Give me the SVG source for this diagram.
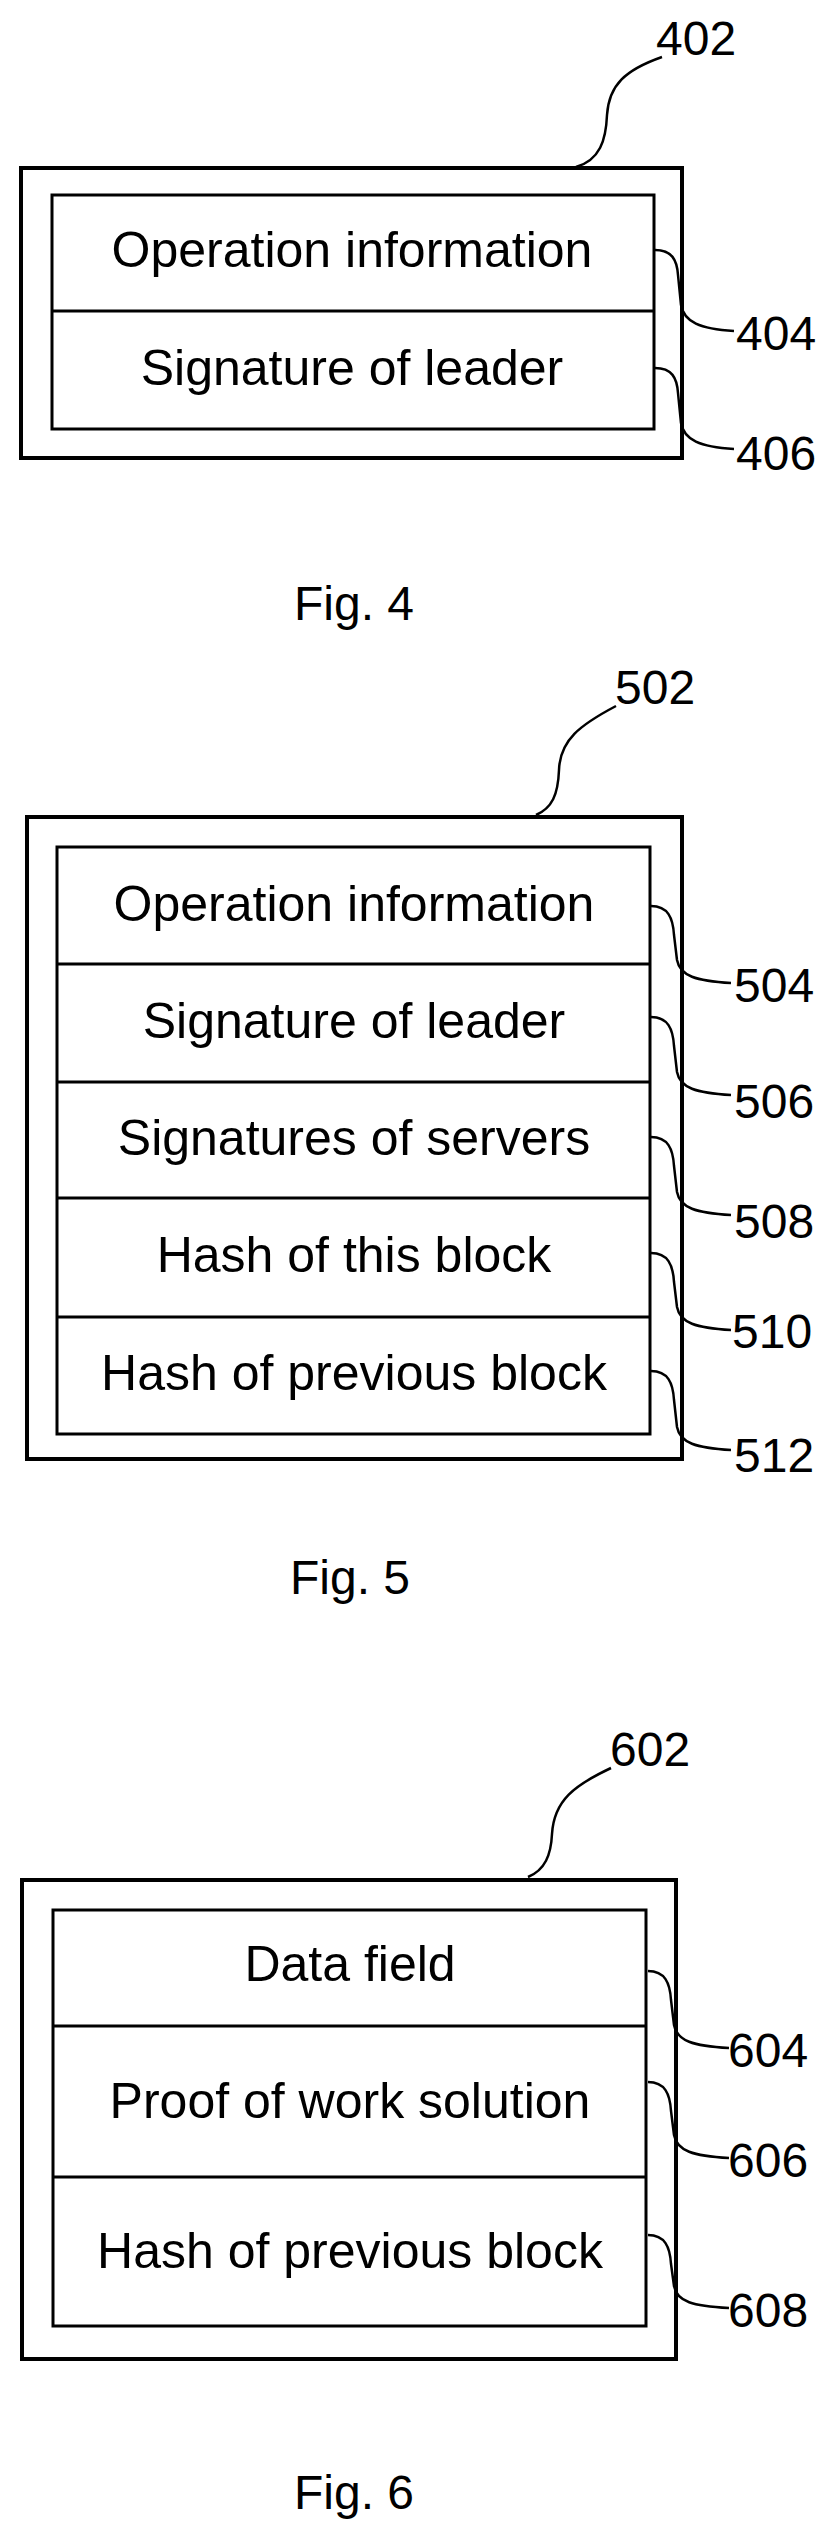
<svg xmlns="http://www.w3.org/2000/svg" width="836" height="2543" viewBox="0 0 836 2543">
<style>
.o{fill:none;stroke:#000;stroke-width:4}
.i{fill:none;stroke:#000;stroke-width:3}
.l{fill:none;stroke:#000;stroke-width:2.5}
text{font-family:"Liberation Sans",Arial,sans-serif;fill:#000}
.t{font-size:50px;text-anchor:middle}
.n{font-size:48px}
.c{font-size:48px}
</style>
<rect width="836" height="2543" fill="#fff"/>
<g id="fig4">
<rect class="o" x="21" y="168" width="661" height="290"/>
<rect class="i" x="52" y="195" width="602" height="234"/>
<line class="i" x1="52" y1="311" x2="654" y2="311"/>
<text class="t" x="352" y="267">Operation information</text>
<text class="t" x="352" y="385">Signature of leader</text>
<text class="n" x="656" y="55">402</text>
<text class="n" x="736" y="350">404</text>
<text class="n" x="736" y="470">406</text>
<text class="c" x="294" y="620">Fig. 4</text>
</g>
<g id="fig5">
<rect class="o" x="27" y="817" width="655" height="642"/>
<rect class="i" x="57" y="847" width="593" height="587"/>
<line class="i" x1="57" y1="964" x2="650" y2="964"/>
<line class="i" x1="57" y1="1082" x2="650" y2="1082"/>
<line class="i" x1="57" y1="1198" x2="650" y2="1198"/>
<line class="i" x1="57" y1="1317" x2="650" y2="1317"/>
<text class="t" x="354" y="921">Operation information</text>
<text class="t" x="354" y="1038">Signature of leader</text>
<text class="t" x="354" y="1155">Signatures of servers</text>
<text class="t" x="354" y="1272">Hash of this block</text>
<text class="t" x="354" y="1390">Hash of previous block</text>
<text class="n" x="615" y="704">502</text>
<text class="n" x="734" y="1002">504</text>
<text class="n" x="734" y="1118">506</text>
<text class="n" x="734" y="1238">508</text>
<text class="n" x="732" y="1348">510</text>
<text class="n" x="734" y="1472">512</text>
<text class="c" x="290" y="1594">Fig. 5</text>
</g>
<g id="fig6">
<rect class="o" x="22" y="1880" width="654" height="479"/>
<rect class="i" x="53" y="1910" width="593" height="416"/>
<line class="i" x1="53" y1="2026" x2="646" y2="2026"/>
<line class="i" x1="53" y1="2177" x2="646" y2="2177"/>
<text class="t" x="350" y="1981">Data field</text>
<text class="t" x="350" y="2118">Proof of work solution</text>
<text class="t" x="350" y="2268">Hash of previous block</text>
<text class="n" x="610" y="1766">602</text>
<text class="n" x="728" y="2067">604</text>
<text class="n" x="728" y="2177">606</text>
<text class="n" x="728" y="2327">608</text>
<text class="c" x="294" y="2509">Fig. 6</text>
</g>
<g id="connectors">
<path class="l" d="M576,167 C600,160 606,140 607,115 C609,85 625,70 662,57"/>
<path class="l" d="M655,250 C672,250 677,260 678,275 L681,305 C684,322 700,329 734,331"/>
<path class="l" d="M655,368 C672,368 677,378 678,393 L681,423 C684,440 700,447 734,449"/>
<path class="l" d="M536,815 C552,808 558,795 559,770 C560,740 580,725 616,706"/>
<path class="l" d="M651,906 C668,906 673,918 674,935 L677,960 C680,976 696,981 731,983"/>
<path class="l" d="M651,1017 C668,1017 673,1029 674,1046 L677,1072 C680,1088 696,1093 731,1095"/>
<path class="l" d="M651,1137 C668,1137 673,1149 674,1166 L677,1192 C680,1208 696,1213 731,1215"/>
<path class="l" d="M651,1253 C668,1253 673,1265 674,1282 L677,1307 C680,1323 696,1328 731,1330"/>
<path class="l" d="M651,1371 C668,1371 673,1383 674,1400 L677,1427 C680,1443 696,1448 731,1450"/>
<path class="l" d="M528,1877 C545,1870 551,1855 552,1834 C554,1800 575,1785 611,1768"/>
<path class="l" d="M648,1971 C665,1971 670,1983 671,2000 L674,2025 C677,2041 693,2046 729,2048"/>
<path class="l" d="M648,2082 C665,2082 670,2094 671,2111 L674,2135 C677,2151 693,2156 729,2158"/>
<path class="l" d="M648,2235 C665,2235 670,2247 671,2264 L674,2286 C677,2302 693,2306 729,2308"/>
</g>
</svg>
